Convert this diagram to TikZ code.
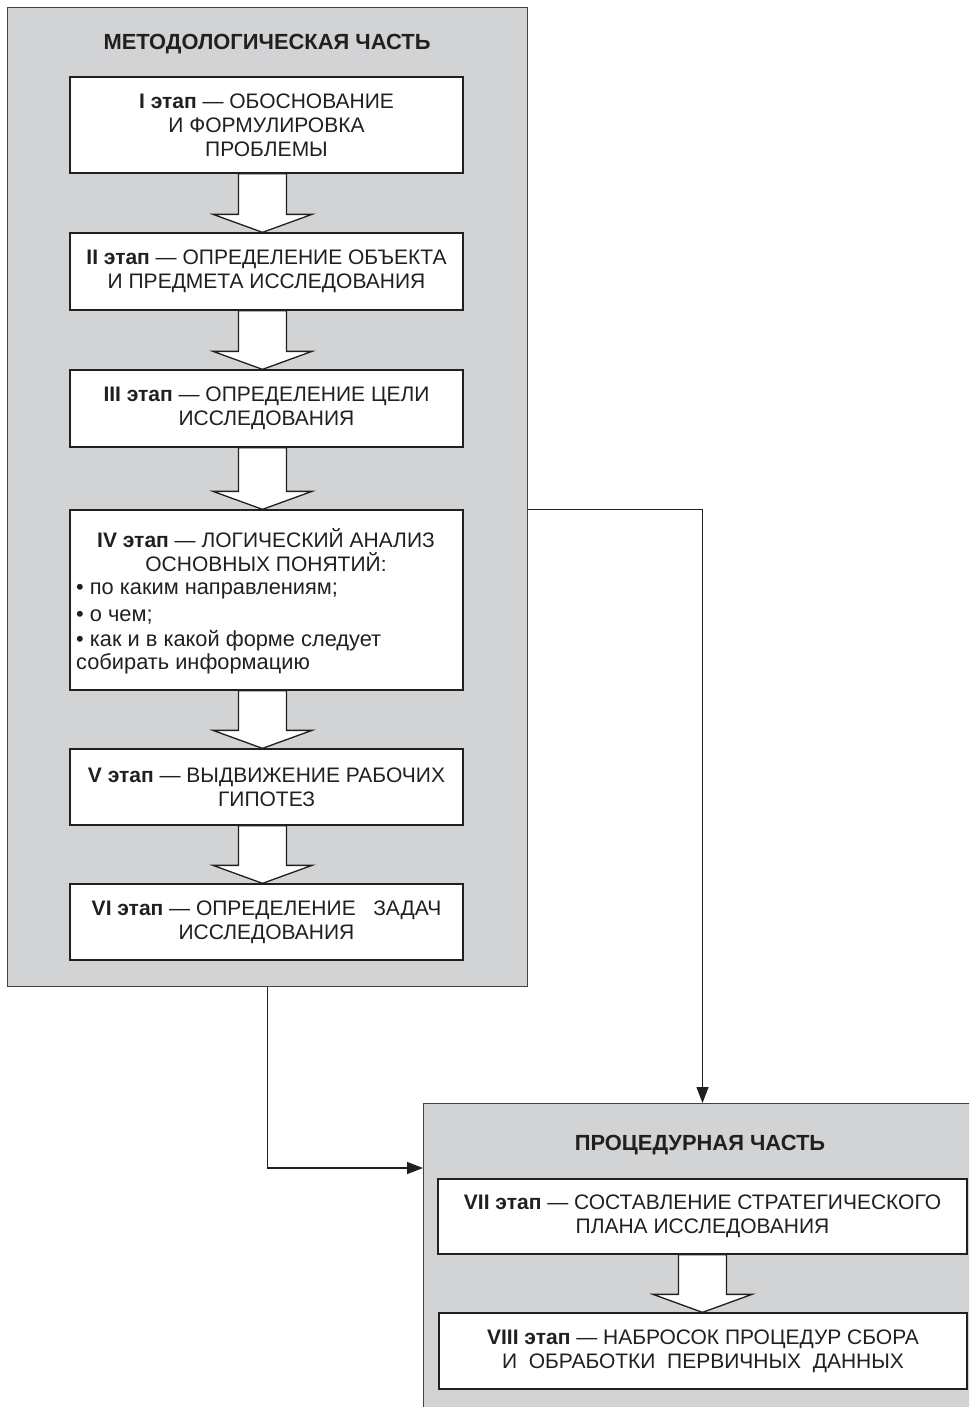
\documentclass[tikz,border=0pt]{standalone}
\usepackage{fontspec}
\setmainfont{Liberation Sans}
\usetikzlibrary{arrows.meta,calc}
\definecolor{panelgray}{HTML}{D1D3D4}
\definecolor{ink}{HTML}{231F20}

\tikzset{
  panel/.style={draw=ink!85, line width=1.4pt, fill=panelgray, inner sep=0pt},
  stage/.style={draw=ink, line width=1.3pt, fill=white, inner sep=0pt},
  label/.style={align=center, font=\fontsize{21}{24}\selectfont, inner sep=0pt, text=ink},
  listline/.style={anchor=base west, font=\fontsize{21.8}{24}\selectfont, inner sep=0pt, text=ink},
  heading/.style={font=\fontsize{21.9}{24}\selectfont\bfseries, inner sep=0pt, text=ink},
  conn/.style={draw=ink, line width=1.3pt, -{Triangle[length=16pt,width=12pt]}},
  blockarr/.style={draw=ink, line width=1.3pt, fill=white, line join=miter},
}

% hollow block arrow from the bottom of one stage to the top of the next
\newcommand\stagearrow[3]{%
  \path[blockarr] let \p1=(#1.south), \p2=(#2.north) in
    (\x1+#3-24pt,\y1) -- (\x1+#3-24pt,\y2+18pt) -- (\x1+#3-49.5pt,\y2+18pt)
    -- (\x1+#3,\y2) -- (\x1+#3+49.5pt,\y2+18pt) -- (\x1+#3+24pt,\y2+18pt)
    -- (\x1+#3+24pt,\y1) -- cycle;}

\begin{document}
\begin{tikzpicture}[x=1pt,y=-1pt]
\fill[white] (0,0) rectangle (969,1407);
\useasboundingbox (0,0) rectangle (969,1407);
\clip (0,0) rectangle (969,1407);

% panels
\node[panel, anchor=north west, minimum width=520pt, minimum height=979pt] (p1) at (7,7) {};
\node[panel, anchor=north west, minimum width=559pt, minimum height=330pt] (p2) at (423,1103) {};

\node[heading] (h1) at (267,44) {МЕТОДОЛОГИЧЕСКАЯ ЧАСТЬ};
\node[heading] (h2) at (700,1145) {ПРОЦЕДУРНАЯ ЧАСТЬ};

% methodological stages
\node[stage, minimum width=393pt, minimum height=96pt] (s1) at (266.5,125) {};
\node[stage, minimum width=393pt, minimum height=77pt] (s2) at (266.5,271.5) {};
\node[stage, minimum width=393pt, minimum height=77pt] (s3) at (266.5,408.5) {};
\node[stage, minimum width=393pt, minimum height=180pt] (s4) at (266.5,600) {};
\node[stage, minimum width=393pt, minimum height=76pt] (s5) at (266.5,787) {};
\node[stage, minimum width=393pt, minimum height=76pt] (s6) at (266.5,922) {};

% procedural stages
\node[stage, minimum width=529pt, minimum height=75pt] (s7) at (702.5,1216.5) {};
\node[stage, minimum width=528pt, minimum height=76pt] (s8) at (703,1351) {};

\stagearrow{s1}{s2}{-4pt}
\stagearrow{s2}{s3}{-4pt}
\stagearrow{s3}{s4}{-4pt}
\stagearrow{s4}{s5}{-4pt}
\stagearrow{s5}{s6}{-4pt}
\stagearrow{s7}{s8}{0pt}

% stage texts
\node[label] (t1) at (s1) {\textbf{I этап} — ОБОСНОВАНИЕ\\И ФОРМУЛИРОВКА\\ПРОБЛЕМЫ};
\node[label] (t2) at (s2) {\textbf{II этап} — ОПРЕДЕЛЕНИЕ ОБЪЕКТА\\И ПРЕДМЕТА ИССЛЕДОВАНИЯ};
\node[label] (t3) at (s3) {\textbf{III этап} — ОПРЕДЕЛЕНИЕ ЦЕЛИ\\ИССЛЕДОВАНИЯ};
\node[label] (t4) at (266,550.5) {\textbf{IV этап} — ЛОГИЧЕСКИЙ АНАЛИЗ\\ОСНОВНЫХ ПОНЯТИЙ:};
\node[listline] (b1) at (76,594) {• по каким направлениям;};
\node[listline] (b2) at (76,621) {• о чем;};
\node[listline] (b3) at (76,646) {• как и в какой форме следует};
\node[listline] (b4) at (76,669) {собирать информацию};
\node[label] (t5) at (s5) {\textbf{V этап} — ВЫДВИЖЕНИЕ РАБОЧИХ\\ГИПОТЕЗ};
\node[label] (t6) at (s6) {\textbf{VI этап} — ОПРЕДЕЛЕНИЕ\ \ \ ЗАДАЧ\\ИССЛЕДОВАНИЯ};
\node[label] (t7) at (s7) {\textbf{VII этап} — СОСТАВЛЕНИЕ СТРАТЕГИЧЕСКОГО\\ПЛАНА ИССЛЕДОВАНИЯ};
\node[label] (t8) at (s8) {\textbf{VIII этап} — НАБРОСОК ПРОЦЕДУР СБОРА\\И\ \ ОБРАБОТКИ\ \ ПЕРВИЧНЫХ\ \ ДАННЫХ};

% connectors between the two parts
\coordinate (entry) at (423,1168);
\draw[conn] (s4.north -| p1.east) -| (p2.north -| s7.north);
\draw[conn] (p1.south) |- (entry);
\end{tikzpicture}
\end{document}
